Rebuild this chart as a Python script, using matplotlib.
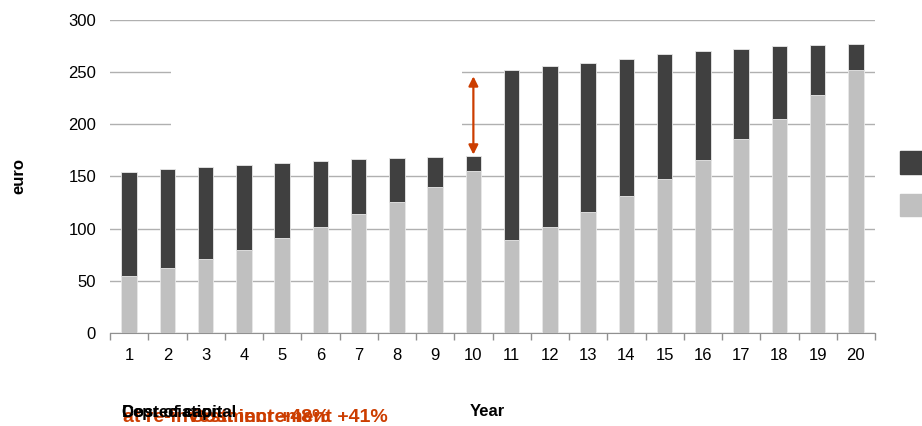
import numpy as np
import matplotlib.pyplot as plt
import matplotlib.patches as mpatches

plt.rcParams['font.family'] = ['Liberation Sans', 'DejaVu Sans']

years = list(range(1, 21))
depreciation = [55, 62, 71, 80, 91, 102, 114, 126, 140, 155,
                89, 102, 116, 131, 148, 166, 186, 205, 228, 252]
totals = [154, 157, 159, 161, 163, 165, 167, 168, 169, 170,
          252, 256, 259, 263, 267, 270, 272, 275, 276, 277]
cost_of_capital = [t - d for t, d in zip(totals, depreciation)]

dark = '#404040'
light = '#C0C0C0'
red = '#CC3D00'

fig = plt.figure(figsize=(9.22, 4.26), dpi=100)
ax = fig.add_axes([110 / 922, 1 - 333 / 426, 765 / 922, 313 / 426])

x = np.array(years)
ax.bar(x, depreciation, width=0.41, color=light, edgecolor='#e8e8e8', linewidth=0.6, zorder=3)
ax.bar(x, cost_of_capital, bottom=depreciation, width=0.41, color=dark,
       edgecolor='#e8e8e8', linewidth=0.6, zorder=3)

ax.set_xlim(0.5, 20.5)
ax.set_ylim(0, 300)
ax.set_yticks(range(0, 301, 50))
ax.yaxis.grid(True, color='#b0b0b0', linewidth=1.0, zorder=0)
ax.set_axisbelow(True)

# blank box that hides part of the upper grid lines
ax.add_patch(mpatches.Rectangle((2.1, 185), 7.6, 80, facecolor='white',
                                edgecolor='none', zorder=1))

ax.set_xticks(years)
ax.set_xticks(np.arange(0.5, 21, 1), minor=True)
ax.tick_params(axis='x', which='major', length=0, pad=11, labelsize=12)
ax.tick_params(axis='x', which='minor', length=5, color='#909090', width=1)
ax.tick_params(axis='y', length=0, pad=10, labelsize=12)
for s in ['top', 'right', 'left']:
    ax.spines[s].set_visible(False)
ax.spines['bottom'].set_color('#909090')

ax.set_ylabel('euro', fontsize=12, fontweight='bold', labelpad=30)

ax.annotate('', xy=(10, 246), xytext=(10, 171),
            arrowprops=dict(arrowstyle='<|-|>', color=red, lw=1.6,
                            mutation_scale=14, shrinkA=0, shrinkB=0))

fig.text(487 / 922, 1 - 412 / 426, 'Year', fontsize=12, fontweight='bold',
         ha='center', va='center')
fig.text(123 / 922, 1 - 418 / 426, 'at re-investment +48%', fontsize=14,
         fontweight='bold', color=red, va='center')
fig.text(190 / 922, 1 - 418 / 426, 'Cost increment +41%', fontsize=14,
         fontweight='bold', color=red, va='center')
fig.text(122 / 922, 1 - 412 / 426, 'Depreciation', fontsize=12,
         fontweight='bold', va='center')
fig.text(122 / 922, 1 - 412 / 426, 'Cost of capital', fontsize=12,
         fontweight='bold', va='center')

handles = [mpatches.Patch(color=dark), mpatches.Patch(color=light)]
fig.legend(handles, ['Cost of capital', 'Depreciation'], loc='upper left',
           bbox_to_anchor=(900 / 922, 1 - 151 / 426), frameon=False,
           borderpad=0, borderaxespad=0, handlelength=1.6, handleheight=1.7,
           labelspacing=1.2, fontsize=12)

fig.savefig('out.png', dpi=100)
